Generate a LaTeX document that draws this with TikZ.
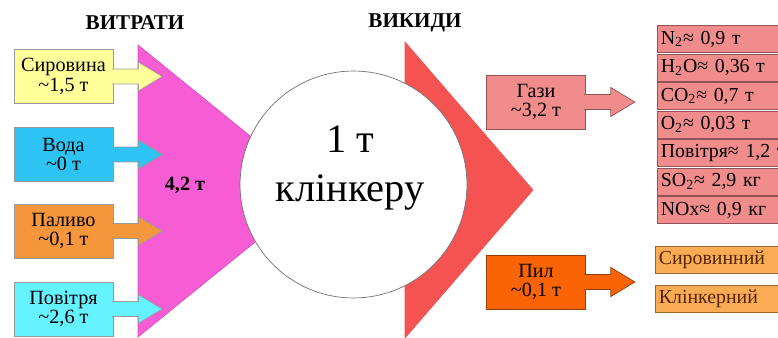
\documentclass[tikz,border=0pt]{standalone}
\usepackage{fontspec}
\setmainfont{Liberation Serif}
\usetikzlibrary{calc}

\definecolor{inyellow}{RGB}{255,255,153}
\definecolor{inblue}{RGB}{45,195,242}
\definecolor{inorange}{RGB}{245,150,60}
\definecolor{incyan}{RGB}{100,242,255}
\definecolor{inpink}{RGB}{246,92,212}
\definecolor{outred}{RGB}{245,82,82}
\definecolor{gasrose}{RGB}{240,140,140}
\definecolor{dustorange}{RGB}{250,100,5}
\definecolor{dustlight}{RGB}{250,172,85}
\definecolor{dusttext}{RGB}{85,35,10}

% arrow sticking out of a box: node, fill, border
\newcommand{\sidearrow}[3]{\draw[fill=#2, draw=#3] ([xshift=-0.03cm, yshift=-0.15cm]#1.east) -- ++(0.53cm, 0) -- ++(0, -0.14cm) -- ++(0.48cm, 0.29cm) -- ++(-0.48cm, 0.29cm) -- ++(0, -0.14cm) -- ++(-0.53cm, 0);}

\tikzset{
	flowbox/.style={draw=black!40, align=center, inner sep=1pt,
		minimum width=1.98cm, minimum height=1.08cm,
		font=\fontsize{11.5}{11}\selectfont},
	listrow/.style={draw=black!40, anchor=west, minimum height=0.54cm, inner sep=2pt,
		text width=2.8cm, align=left, font=\fontsize{11.3}{13}\selectfont},
	heading/.style={font=\bfseries\fontsize{12}{14}\selectfont}
}

\begin{document}
\begin{tikzpicture}[x=0.02cm, y=-0.02cm]
		%%%%% START %%%%%
		\useasboundingbox (0, 0) rectangle (778, 338);
		\clip (0, 0) rectangle (778, 338);
		
		% inputs and outputs wedges
		\draw[fill=inpink, draw=inpink!90!black] (138, 45) -- (318, 191) -- (138, 337) -- cycle;
		\draw[fill=outred, draw=outred] (405, 42) -- (533, 190) -- (405, 338) -- cycle;
		
		\node[circle, draw=black!55, fill=white, minimum size=4.54cm] (kiln) at (353.5, 184.5) {};
		\node[align=center, font=\fontsize{23}{28}\selectfont] (clinker) at (350, 168) {1 т\\клінкеру};
		
		\node[heading] (costs) at (135, 23) {ВИТРАТИ};
		\node[heading] (waste) at (415, 23) {ВИКИДИ};
		\node[font=\bfseries\fontsize{11.5}{13}\selectfont] (total) at (185, 185) {4,2 т};
		
		% inputs
		\node[flowbox, fill=inyellow] (raw) at (63.5, 76.5) {Сировина\\\textasciitilde1,5 т};
		\node[flowbox, fill=inblue] (water) at (63.5, 154.5) {Вода\\\textasciitilde0 т};
		\node[flowbox, fill=inorange] (fuel) at (63.5, 231) {Паливо\\\textasciitilde0,1 т};
		\node[flowbox, fill=incyan] (air) at (63.5, 309) {Повітря\\\textasciitilde2,6 т};
		\sidearrow{raw}{inyellow}{black!40}
		\sidearrow{water}{inblue}{black!40}
		\sidearrow{fuel}{inorange}{black!40}
		\sidearrow{air}{incyan}{black!40}
		
		% outputs
		\node[flowbox, fill=gasrose, draw=gasrose!60!black] (gases) at (536, 102) {Гази\\\textasciitilde3,2 т};
		\node[flowbox, fill=dustorange, draw=dustorange!60!black] (dust) at (536, 282) {Пил\\\textasciitilde0,1 т};
		\sidearrow{gases}{gasrose}{gasrose!60!black}
		\sidearrow{dust}{dustorange}{dustorange!60!black}
		
		\node[listrow, fill=gasrose, draw=gasrose!60!black] (nitrogen) at (657, 39) {N\textsubscript{2}≈ 0,9 т};
		\node[listrow, fill=gasrose, draw=gasrose!60!black] (steam) at (657, 67.5) {H\textsubscript{2}O≈ 0,36 т};
		\node[listrow, fill=gasrose, draw=gasrose!60!black] (carbon) at (657, 96) {CO\textsubscript{2}≈ 0,7 т};
		\node[listrow, fill=gasrose, draw=gasrose!60!black] (oxygen) at (657, 124.5) {O\textsubscript{2}≈ 0,03 т};
		\node[listrow, fill=gasrose, draw=gasrose!60!black] (airout) at (657, 153) {Повітря≈ 1,2 т};
		\node[listrow, fill=gasrose, draw=gasrose!60!black] (sulfur) at (657, 181.5) {SO\textsubscript{2}≈ 2,9 кг};
		\node[listrow, fill=gasrose, draw=gasrose!60!black] (nox) at (657, 210) {NOx≈ 0,9 кг};
		
		\node[listrow, fill=dustlight, draw=dustlight!60!black, text=dusttext] (rawdust) at (655, 260) {Сировинний};
		\node[listrow, fill=dustlight, draw=dustlight!60!black, text=dusttext] (clinkerdust) at (655, 299) {Клінкерний};
		
		%%%%% END %%%%%
	\end{tikzpicture}
\end{document}
